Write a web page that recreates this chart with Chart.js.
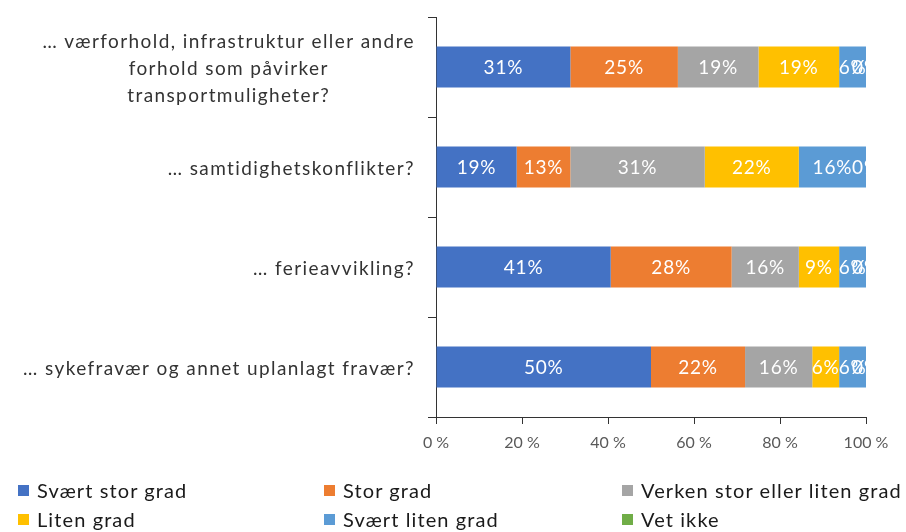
<!DOCTYPE html>
<html>
<head>
<meta charset="utf-8">
<script src="https://cdn.jsdelivr.net/npm/chart.js@4/dist/chart.umd.min.js"></script>
<style>
  html, body { margin: 0; padding: 0; background: #fff; }
  #wrap { position: relative; width: 906px; height: 532px; }
  #c { position: absolute; left: 0; top: 0; }
  #legend { position: absolute; left: 0; top: 477px; width: 906px; height: 55px;
            font-family: Lato, "Open Sans", sans-serif; font-size: 20px; letter-spacing: 1.1px; color: #1a1a1a; }
  .li { position: absolute; display: flex; align-items: center; white-space: nowrap; }
  .sw { width: 11px; height: 11px; margin-right: 8px; }
</style>
</head>
<body>
<div id="wrap">
  <canvas id="c" width="906" height="532"></canvas>
  <div id="legend"></div>
</div>
<script>
const categories = [
  ["… værforhold, infrastruktur eller andre", "forhold som påvirker", "transportmuligheter?"],
  ["… samtidighetskonflikter?"],
  ["… ferieavvikling?"],
  ["… sykefravær og annet uplanlagt fravær?"]
];
const seriesNames = ["Svært stor grad", "Stor grad", "Verken stor eller liten grad", "Liten grad", "Svært liten grad", "Vet ikke"];
const seriesColors = ["#4472C4", "#ED7D31", "#A5A5A5", "#FFC000", "#5B9BD5", "#70AD47"];
const svaertStor = [31.25, 18.75, 40.625, 50];
const stor       = [25, 12.5, 28.125, 21.875];
const verken     = [18.75, 31.25, 15.625, 15.625];
const liten      = [18.75, 21.875, 9.375, 6.25];
const svaertLiten= [6.25, 15.625, 6.25, 6.25];
const vetIkke    = [0, 0, 0, 0];
const xTicks = [0, 20, 40, 60, 80, 100];

const seriesValues = [svaertStor, stor, verken, liten, svaertLiten, vetIkke];
const FONT = 'Lato, "Open Sans", sans-serif';

const datasets = seriesNames.map((n, i) => ({
  label: n,
  data: seriesValues[i],
  backgroundColor: seriesColors[i],
  borderWidth: 0,
  categoryPercentage: 1,
  barPercentage: 0.41
}));

const valueLabels = {
  id: 'valueLabels',
  afterDatasetsDraw(chart) {
    const ctx = chart.ctx;
    ctx.save();
    ctx.font = '19px ' + FONT;
    ctx.letterSpacing = '0.8px';
    ctx.fillStyle = '#ffffff';
    ctx.textAlign = 'center';
    ctx.textBaseline = 'middle';
    chart.data.datasets.forEach((ds, di) => {
      const meta = chart.getDatasetMeta(di);
      meta.data.forEach((el, i) => {
        const p = el.getCenterPoint();
        ctx.fillText(Math.round(ds.data[i]) + '%', p.x, p.y + 1);
      });
    });
    ctx.restore();
  }
};

const catLabels = {
  id: 'catLabels',
  afterDraw(chart) {
    const ctx = chart.ctx;
    const y = chart.scales.y;
    const right = 415, lh = 27;
    ctx.save();
    ctx.font = '19px ' + FONT;
    ctx.letterSpacing = '1.4px';
    ctx.fillStyle = '#333333';
    ctx.textBaseline = 'middle';
    ctx.textAlign = 'center';
    categories.forEach((lines, i) => {
      const w = Math.max(...lines.map(l => ctx.measureText(l).width));
      const cx = right - w / 2;
      const cy = y.getPixelForValue(i) + 2;
      const y0 = cy - (lines.length - 1) * lh / 2;
      lines.forEach((l, k) => ctx.fillText(l, cx, y0 + k * lh));
    });
    ctx.restore();
  }
};

const chart = new Chart(document.getElementById('c'), {
  type: 'bar',
  data: { labels: categories.map(c => c.join(' ')), datasets },
  options: {
    indexAxis: 'y',
    responsive: false,
    animation: false,
    devicePixelRatio: 1,
    layout: { padding: { left: 0, top: 17, right: 40, bottom: 75 } },
    plugins: { legend: { display: false }, tooltip: { enabled: false } },
    scales: {
      x: {
        stacked: true,
        min: 0, max: 100,
        afterBuildTicks(s) { s.ticks = xTicks.map(v => ({ value: v })); },
        afterFit(s) { s.height = 40; },
        ticks: { callback: v => v + ' %', color: '#595959', font: { size: 16, family: FONT }, padding: 9, maxRotation: 0 },
        grid: { drawOnChartArea: false, drawTicks: true, tickLength: 7, color: '#333' },
        border: { display: true, color: '#333', width: 1 }
      },
      y: {
        stacked: true,
        offset: true,
        afterFit(s) { s.width = 436; },
        ticks: { display: false },
        grid: { offset: true, drawOnChartArea: false, drawTicks: true, tickLength: 8, color: '#333' },
        border: { display: true, color: '#333', width: 1 }
      }
    }
  },
  plugins: [valueLabels, catLabels]
});

// HTML legend in a 3-column grid
const legend = document.getElementById('legend');
const cols = [18, 324, 622], rows = [1, 30];
chart.data.datasets.forEach((ds, i) => {
  const d = document.createElement('div');
  d.className = 'li';
  d.style.left = cols[i % 3] + 'px';
  d.style.top = rows[Math.floor(i / 3)] + 'px';
  d.innerHTML = '<span class="sw" style="background:' + ds.backgroundColor + '"></span><span>' + ds.label + '</span>';
  legend.appendChild(d);
});
</script>
</body>
</html>
